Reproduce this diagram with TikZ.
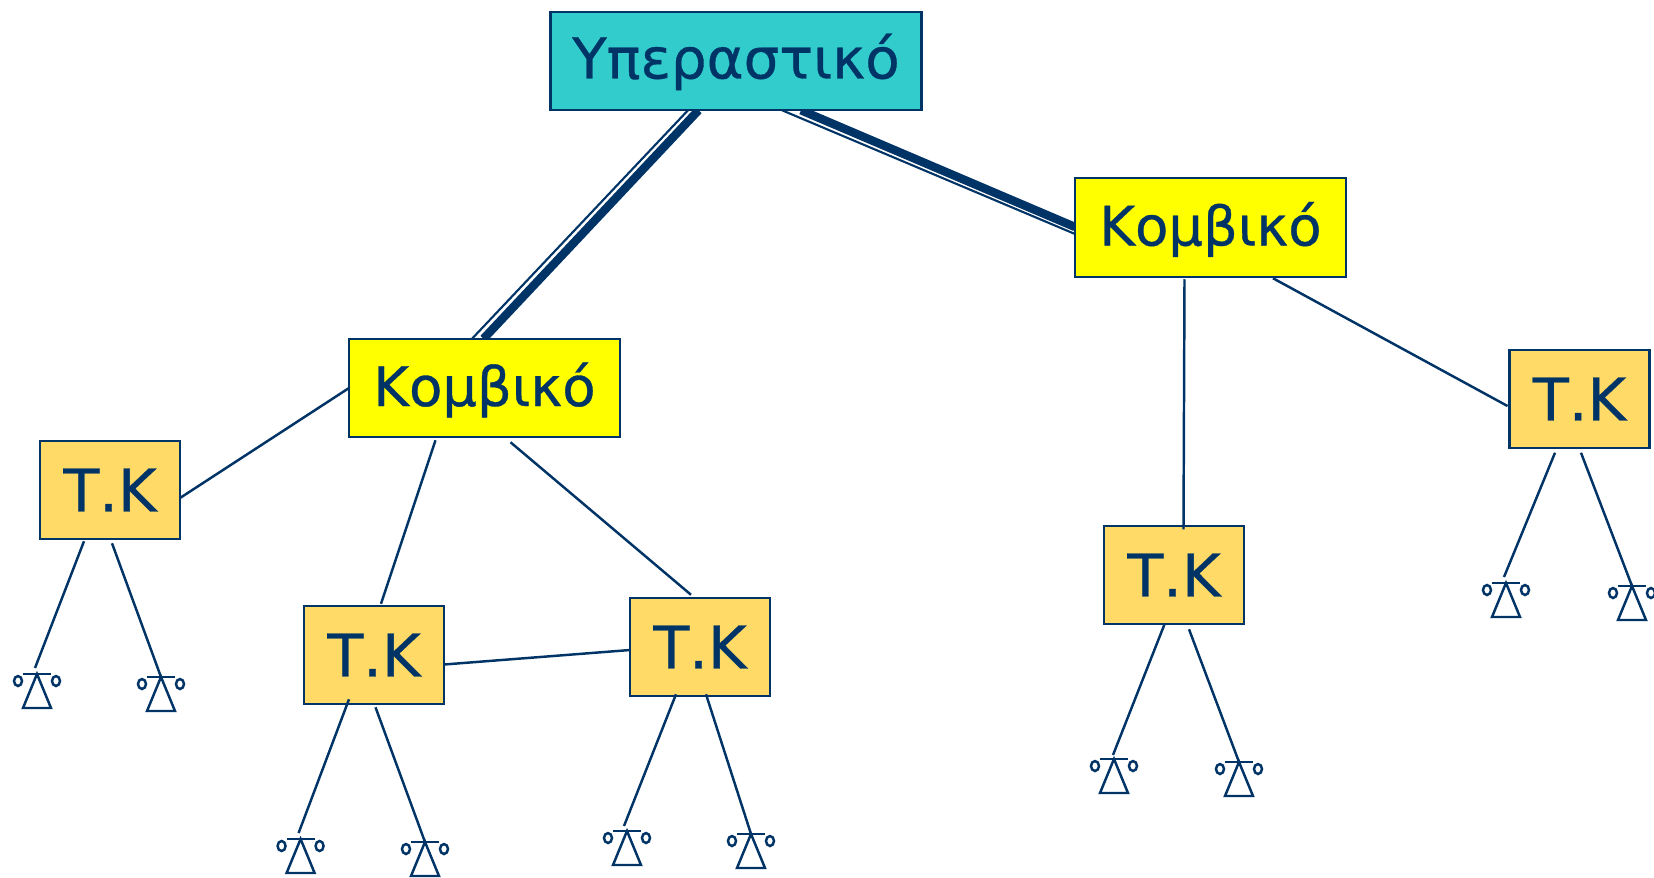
\documentclass[tikz,border=0pt]{standalone}
\usepackage{fontspec}
\usetikzlibrary{backgrounds}
\setmainfont[FakeBold=0.6]{DejaVu Sans}
\definecolor{navy}{HTML}{003366}
\definecolor{turq}{HTML}{33CCCC}
\definecolor{jaune}{HTML}{FFFF00}
\definecolor{ocre}{HTML}{FFDA66}
\tikzset{
	boite/.style={draw=navy,line width=1.4pt,inner sep=0pt,outer sep=0pt,text=navy},
	racine/.style={boite,fill=turq,minimum width=7.42cm,minimum height=1.97cm,text height=26.6pt,text depth=6.7pt,font=\fontsize{32}{36}\selectfont},
	kombos/.style={boite,fill=jaune,minimum width=5.42cm,minimum height=1.97cm,text height=27pt,text depth=6.5pt,font=\fontsize{31}{36}\selectfont},
	tk/.style={boite,fill=ocre,minimum width=2.8cm,minimum height=1.97cm,font=\fontsize{33.5}{36}\selectfont},
	ligne/.style={draw=navy,line width=1.4pt},
	fine/.style={draw=navy,line width=1.2pt},
	grasse/.style={draw=navy,line width=4.8pt},
	tel/.pic={
		\draw[ligne] (-14,0) -- (14,0);
		\draw[ligne] (0,0) -- (14,34) -- (-14,34) -- cycle;
		\draw[ligne] (-19,7) ellipse (4 and 5);
		\draw[ligne] (19,7) ellipse (4 and 5);
	}
}
\begin{document}
\begin{tikzpicture}[x=0.02cm,y=-0.02cm]
	\useasboundingbox (0,0) rectangle (1654,877);
%	Nodes :
	\node[racine] (root) at (736,61) {Υπεραστικό};
	\node[kombos] (kombA) at (484.5,388) {Κομβικό};
	\node[kombos] (kombB) at (1210.5,227.5) {Κομβικό};
	\node[tk] (tkA) at (110,490) {Τ.Κ};
	\node[tk] (tkB) at (374,655) {Τ.Κ};
	\node[tk] (tkC) at (700,647) {Τ.Κ};
	\node[tk] (tkD) at (1174,575) {Τ.Κ};
	\node[tk] (tkE) at (1579.5,399) {Τ.Κ};
%	Symbols :
	\coordinate (telA) at (37,674);
	\coordinate (telB) at (161,677);
	\coordinate (telC) at (300.6,839);
	\coordinate (telD) at (425,842);
	\coordinate (telE) at (627,831);
	\coordinate (telF) at (751,834);
	\coordinate (telG) at (1114,759);
	\coordinate (telH) at (1239,762);
	\coordinate (telI) at (1506,583);
	\coordinate (telJ) at (1632,586);
	\pic at (telA) {tel};
	\pic at (telB) {tel};
	\pic at (telC) {tel};
	\pic at (telD) {tel};
	\pic at (telE) {tel};
	\pic at (telF) {tel};
	\pic at (telG) {tel};
	\pic at (telH) {tel};
	\pic at (telI) {tel};
	\pic at (telJ) {tel};
%	Double links :
	\begin{scope}[on background layer]
		\draw[fine] ([shift={(-48,0)}]root.south) -- ([shift={(-12.5,0)}]kombA.north);
		\draw[grasse] ([shift={(-37.5,0)}]root.south) -- ([shift={(-1,0)}]kombA.north);
		\draw[fine] ([shift={(46,0)}]root.south) -- ([shift={(0,6.5)}]kombB.west);
		\draw[grasse] ([shift={(65,0)}]root.south) -- ([shift={(0,-0.5)}]kombB.west);
	\end{scope}
%	Simple links :
	\draw[ligne] (kombA.west) -- ([shift={(0,8)}]tkA.east);
	\draw[ligne] ([shift={(-49,3)}]kombA.south) -- ([shift={(7,-2)}]tkB.north);
	\draw[ligne] ([shift={(26,5)}]kombA.south) -- ([shift={(-9,-3)}]tkC.north);
	\draw[ligne] ([shift={(0,9.5)}]tkB.east) -- ([shift={(0,3)}]tkC.west);
	\draw[ligne] ([shift={(-26,2.5)}]kombB.south) -- ([shift={(9.5,3.5)}]tkD.north);
	\draw[ligne] ([shift={(62.5,1.5)}]kombB.south) -- ([shift={(-2,7)}]tkE.west);
%	Links to symbols :
	\draw[ligne] ([shift={(-26,2)}]tkA.south) -- ([shift={(-2,-6)}]telA);
	\draw[ligne] ([shift={(2,4)}]tkA.south) -- (telB);
	\draw[ligne] ([shift={(-25,-5)}]tkB.south) -- ([shift={(-2,-6)}]telC);
	\draw[ligne] ([shift={(1.5,3)}]tkB.south) -- (telD);
	\draw[ligne] ([shift={(-24,-2)}]tkC.south) -- ([shift={(-3,-5)}]telE);
	\draw[ligne] ([shift={(6,-2)}]tkC.south) -- (telF);
	\draw[ligne] ([shift={(-9.5,0)}]tkD.south) -- ([shift={(-1,-4)}]telG);
	\draw[ligne] ([shift={(15,5)}]tkD.south) -- (telH);
	\draw[ligne] ([shift={(-24.5,4.5)}]tkE.south) -- ([shift={(-2,-6)}]telI);
	\draw[ligne] ([shift={(1.5,4.5)}]tkE.south) -- (telJ);
\end{tikzpicture}
\end{document}
